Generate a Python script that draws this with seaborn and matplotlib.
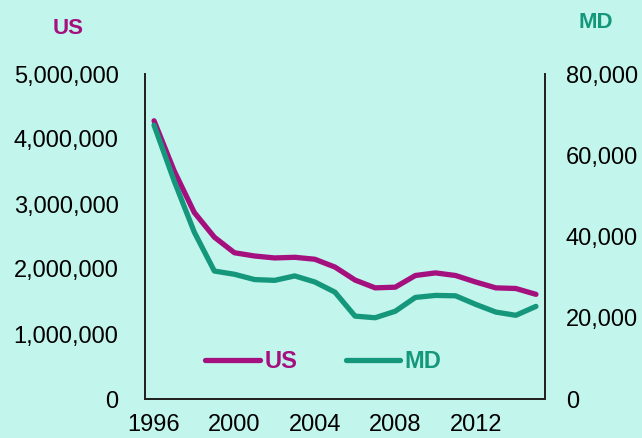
import matplotlib
matplotlib.use("Agg")
import matplotlib.pyplot as plt
import seaborn as sns
import pandas as pd
from matplotlib.ticker import FuncFormatter

years = list(range(1996, 2016))
us = [4.28e6, 3.51e6, 2.87e6, 2.49e6, 2.25e6, 2.20e6, 2.17e6, 2.18e6, 2.15e6, 2.03e6,
      1.83e6, 1.71e6, 1.72e6, 1.90e6, 1.94e6, 1.90e6, 1.80e6, 1.71e6, 1.70e6, 1.61e6]
md = [67400, 53700, 41100, 31500, 30700, 29400, 29200, 30300, 28800, 26300,
      20400, 20000, 21600, 25000, 25500, 25400, 23300, 21400, 20600, 22800]
xticks = [1996, 2000, 2004, 2008, 2012]

US_C = "#A5107F"
MD_C = "#15977B"
BG = "#C2F5EC"

sns.set_theme(style="white")
plt.rcParams["font.family"] = ["Liberation Sans", "DejaVu Sans"]

df = pd.DataFrame({"year": years, "US": us, "MD": md})

fig = plt.figure(figsize=(6.42, 4.38), dpi=100, facecolor=BG)
ax = fig.add_axes([145/642, 1 - 399/438, 400/642, 325/438])
ax.set_facecolor(BG)
ax2 = ax.twinx()

sns.lineplot(data=df, x="year", y="US", ax=ax, color=US_C, linewidth=3.8,
             solid_capstyle="round", label="US", legend=False)
sns.lineplot(data=df, x="year", y="MD", ax=ax2, color=MD_C, linewidth=3.8,
             solid_capstyle="round", label="MD", legend=False)

ax.set_xlim(1995.55, 2015.45)
ax.set_ylim(0, 5e6)
ax2.set_ylim(0, 80000)
ax.set_yticks([0, 1e6, 2e6, 3e6, 4e6, 5e6])
ax2.set_yticks([0, 20000, 40000, 60000, 80000])
ax.set_xticks(xticks)
fmt = FuncFormatter(lambda v, p: f"{int(v):,}")
ax.yaxis.set_major_formatter(fmt)
ax2.yaxis.set_major_formatter(fmt)
for a in (ax, ax2):
    a.set_xlabel("")
    a.set_ylabel("")
    a.tick_params(axis="both", labelsize=17, length=0, colors="black")
    a.spines["top"].set_visible(False)
    for s in ("left", "right", "bottom"):
        a.spines[s].set_color("#222222")
        a.spines[s].set_linewidth(1.3)
ax.tick_params(axis="y", pad=19)
ax2.tick_params(axis="y", pad=15)
ax.tick_params(axis="x", pad=11)

fig.text(68/642, 1 - 28/438, "US", color=US_C, fontsize=16, fontweight="bold",
         ha="center", va="center")
fig.text(596/642, 1 - 22/438, "MD", color=MD_C, fontsize=16, fontweight="bold",
         ha="center", va="center")

h1, _ = ax.get_legend_handles_labels()
h2, _ = ax2.get_legend_handles_labels()
leg = fig.legend(h1 + h2, ["US", "MD"], loc="center",
                 bbox_to_anchor=(323.5/642, 1 - 362/438),
                 ncol=2, frameon=False, fontsize=17, handlelength=2.3,
                 columnspacing=2.05, handletextpad=0.2)
for t, c in zip(leg.get_texts(), [US_C, MD_C]):
    t.set_color(c)
    t.set_fontweight("bold")

fig.savefig("out.png", dpi=100, facecolor=BG)
